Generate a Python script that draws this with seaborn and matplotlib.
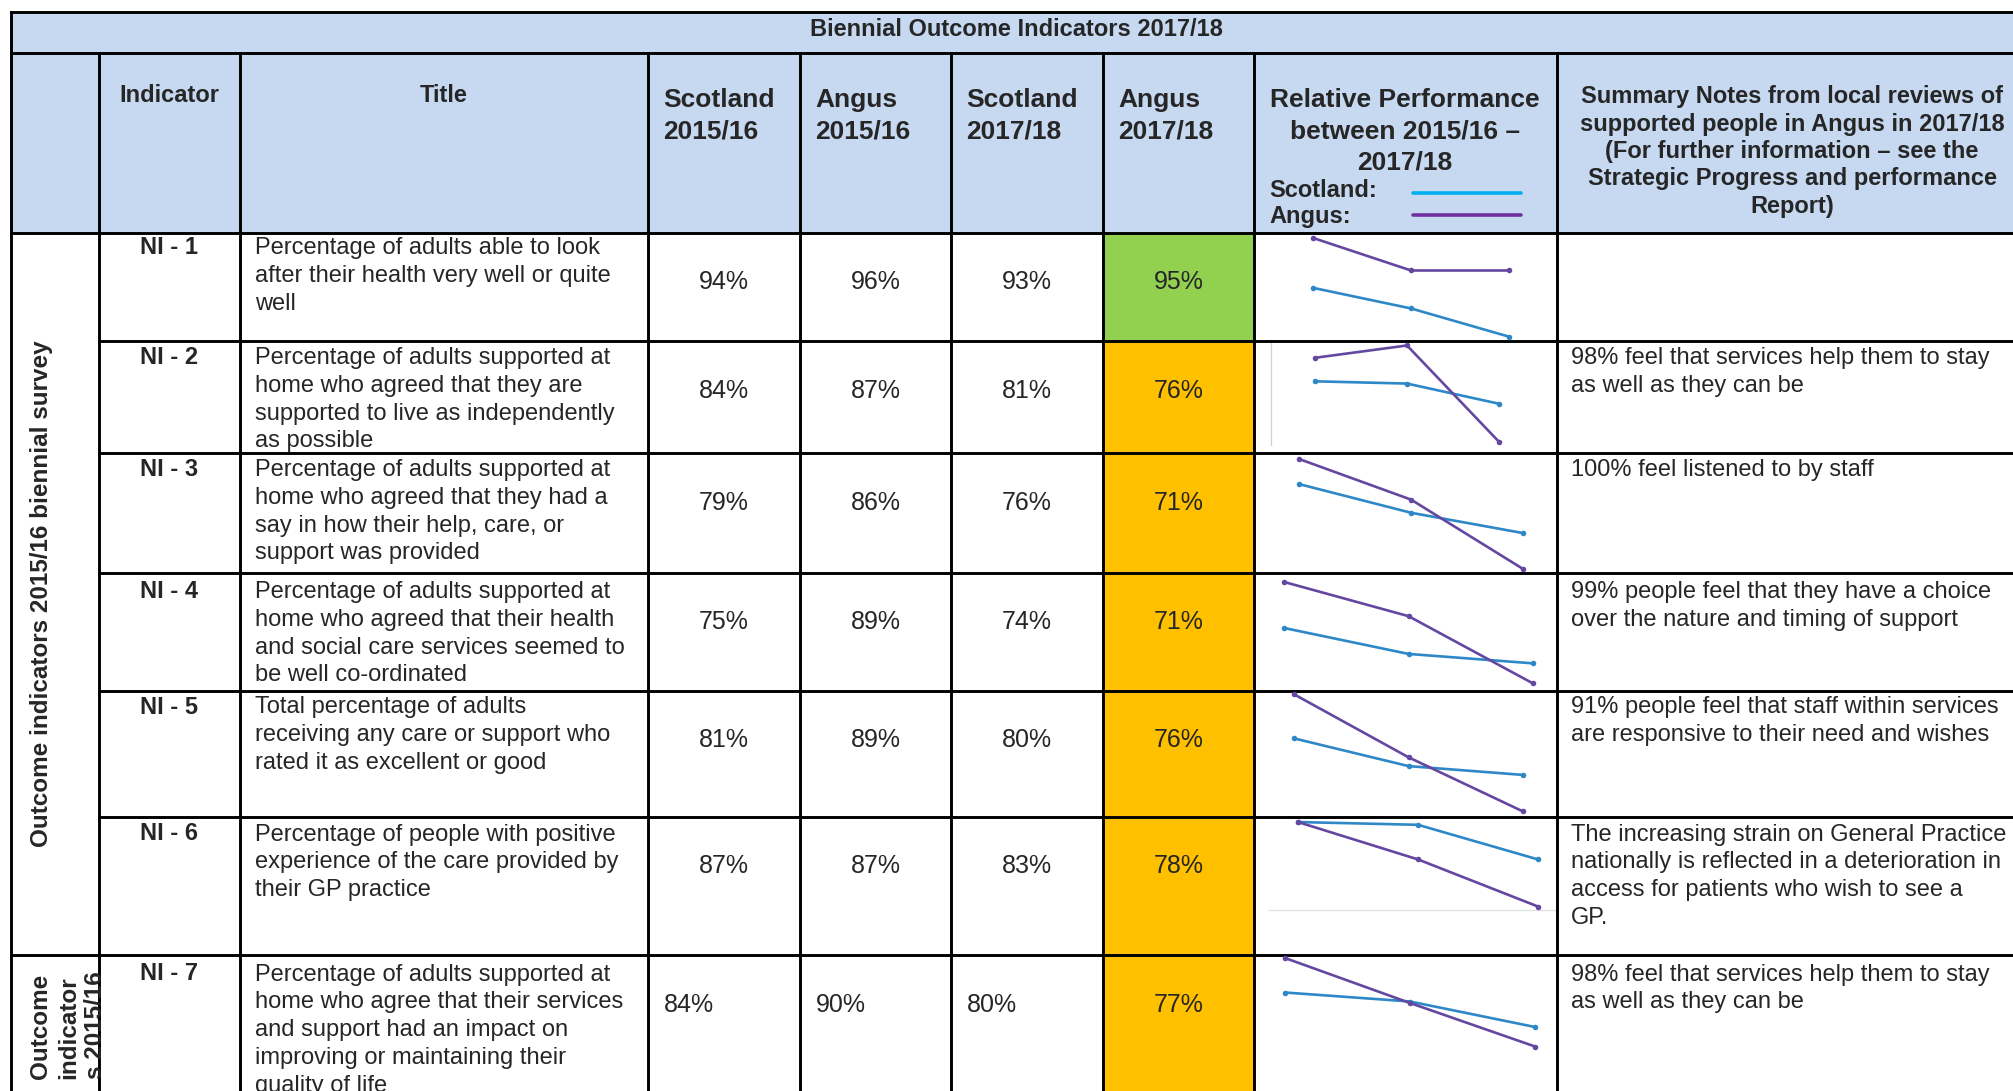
import matplotlib
matplotlib.use("Agg")
import matplotlib.pyplot as plt
import seaborn as sns
import pandas as pd
from matplotlib.patches import Rectangle

# ---------------- data ----------------
table_title = "Biennial Outcome Indicators 2017/18"
indicators = ["NI - 1", "NI - 2", "NI - 3", "NI - 4", "NI - 5", "NI - 6", "NI - 7"]
titles = [
    ["Percentage of adults able to look", "after their health very well or quite", "well"],
    ["Percentage of adults supported at", "home who agreed that they are",
     "supported to live as independently", "as possible"],
    ["Percentage of adults supported at", "home who agreed that they had a",
     "say in how their help, care, or", "support was provided"],
    ["Percentage of adults supported at", "home who agreed that their health",
     "and social care services seemed to", "be well co-ordinated"],
    ["Total percentage of adults", "receiving any care or support who", "rated it as excellent or good"],
    ["Percentage of people with positive", "experience of the care provided by", "their GP practice"],
    ["Percentage of adults supported at", "home who agree that their services",
     "and support had an impact on", "improving or maintaining their", "quality of life"],
]
scotland_1516 = [94, 84, 79, 75, 81, 87, 84]
angus_1516 = [96, 87, 86, 89, 89, 87, 90]
scotland_1718 = [93, 81, 76, 74, 80, 83, 80]
angus_1718 = [95, 76, 71, 71, 76, 78, 77]
rag_status = ["green", "amber", "amber", "amber", "amber", "amber", "amber"]
notes = [
    [],
    ["98% feel that services help them to stay", "as well as they can be"],
    ["100% feel listened to by staff"],
    ["99% people feel that they have a choice", "over the nature and timing of support"],
    ["91% people feel that staff within services", "are responsive to their need and wishes"],
    ["The increasing strain on General Practice", "nationally is reflected in a deterioration in",
     "access for patients who wish to see a", "GP."],
    ["98% feel that services help them to stay", "as well as they can be"],
]
# sparkline levels (read as % of each sparkline cell height), three periods each
spark_periods = [0, 1, 2]
spark_scotland = [[49, 30, 4], [64, 62, 44], [74, 50, 33], [53, 31, 23],
                  [62, 40, 33], [96, 94, 69], [75, 69, 52]]
spark_angus = [[95, 65, 65], [85, 96, 10], [95, 61, 3], [92, 63, 6],
               [97, 47, 4], [96, 69, 35], [98, 68, 39]]

group1_label = "Outcome indicators 2015/16 biennial survey"
group2_lines = ["Outcome", "indicator", "s 2015/16"]
header_cols = ["Scotland\n2015/16", "Angus\n2015/16", "Scotland\n2017/18", "Angus\n2017/18"]
perf_header = ["Relative Performance", "between 2015/16 \u2013", "2017/18"]
notes_header = ["Summary Notes from local reviews of", "supported people in Angus in 2017/18",
                "(For further information \u2013 see the", "Strategic Progress and performance",
                "Report)"]

# ---------------- style / layout ----------------
sns.set_theme(style="white")
plt.rcParams["font.family"] = ["Liberation Sans", "DejaVu Sans"]

HEAD_BLUE = "#C6D9F1"
FILL = {"green": "#92D050", "amber": "#FFC000"}
SCOT_LEG, ANG_LEG = "#00B0F0", "#7030A0"
SCOT_LINE, ANG_LINE = "#2E88C8", "#6447A0"

W, H = 2013, 1091
fig = plt.figure(figsize=(W / 100, H / 100), dpi=100)
fig.patch.set_facecolor("white")
ax = fig.add_axes([0, 0, 1, 1])
ax.set_xlim(0, W)
ax.set_ylim(H, 0)
ax.axis("off")

L, T, TITLE_B, HEAD_B = 10.5, 11.5, 52.5, 232.5
RIGHT = W + 10
COLS = [10.5, 99, 240, 648, 800, 951, 1103, 1254, 1557]
ROWS = [232.5, 341, 453, 572.5, 690.5, 816.5, 955, 1105]
TEXT_OFFSET = [21.5, 23, 23, 25.5, 23, 24, 25.5]   # first-line baseline below row top
LW = 2.1
PITCH = 27.8
FS_BODY = 17
FS_VAL = 18
FS_HEAD = 19

# backgrounds
ax.add_patch(Rectangle((L, T), RIGHT - L, HEAD_B - T, facecolor=HEAD_BLUE, edgecolor="none", zorder=0))
for i, st in enumerate(rag_status):
    ax.add_patch(Rectangle((COLS[6], ROWS[i]), COLS[7] - COLS[6], ROWS[i + 1] - ROWS[i],
                           facecolor=FILL[st], edgecolor="none", zorder=0))

# faint chart-frame remnants inside sparkline cells
ax.plot([1270.7, 1270.7], [343, 445], color="#D0D0D0", lw=0.9, zorder=1)
ax.plot([1268, 1557], [910, 910], color="#E0E0E0", lw=0.9, zorder=1)

# grid lines
def hline(y, x0, x1=RIGHT):
    ax.plot([x0, x1], [y, y], color="black", lw=LW, solid_capstyle="projecting", zorder=3)

def vline(x, y0, y1=H + 10):
    ax.plot([x, x], [y0, y1], color="black", lw=LW, solid_capstyle="projecting", zorder=3)

hline(T, L)
hline(TITLE_B, L)
hline(HEAD_B, L)
for k in range(1, 6):
    hline(ROWS[k], COLS[1])
hline(ROWS[6], L)
vline(L, T)
for x in COLS[1:]:
    vline(x, TITLE_B)

# title row
ax.text((L + W) / 2 + 5, 35.5, table_title, ha="center", va="baseline",
        fontsize=FS_BODY, fontweight="bold")

# header row
ax.text((COLS[1] + COLS[2]) / 2, 102, "Indicator", ha="center", va="baseline",
        fontsize=FS_BODY, fontweight="bold")
ax.text((COLS[2] + COLS[3]) / 2, 102, "Title", ha="center", va="baseline",
        fontsize=FS_BODY, fontweight="bold")
for j, lab in enumerate(header_cols):
    for k, line in enumerate(lab.split("\n")):
        ax.text(COLS[3 + j] + 15.5, 107 + k * 31.5, line, ha="left", va="baseline",
                fontsize=FS_HEAD, fontweight="bold")
for k, line in enumerate(perf_header):
    ax.text((COLS[7] + COLS[8]) / 2 - 1, 107 + k * 31.5, line, ha="center", va="baseline",
            fontsize=FS_HEAD, fontweight="bold")
ax.text(1269, 197, "Scotland:", ha="left", va="baseline", fontsize=FS_BODY, fontweight="bold")
ax.text(1269, 223, "Angus:", ha="left", va="baseline", fontsize=FS_BODY, fontweight="bold")
ax.plot([1413, 1521], [192.5, 192.5], color=SCOT_LEG, lw=2.6, zorder=2)
ax.plot([1413, 1521], [215, 215], color=ANG_LEG, lw=2.6, zorder=2)
for k, line in enumerate(notes_header):
    ax.text(1792, 103.5 + k * 27.3, line, ha="center", va="baseline",
            fontsize=FS_BODY, fontweight="bold")

# body rows
for i in range(len(indicators)):
    top = ROWS[i]
    base = top + TEXT_OFFSET[i]
    ax.text((COLS[1] + COLS[2]) / 2, base, indicators[i], ha="center", va="baseline",
            fontsize=FS_BODY, fontweight="bold")
    for k, line in enumerate(titles[i]):
        ax.text(COLS[2] + 15, base + k * PITCH, line, ha="left", va="baseline", fontsize=FS_BODY)
    for k, line in enumerate(notes[i]):
        ax.text(COLS[8] + 14, base + k * PITCH, line, ha="left", va="baseline", fontsize=FS_BODY)
    vals = [scotland_1516[i], angus_1516[i], scotland_1718[i], angus_1718[i]]
    vy = top + 56.5
    for j, v in enumerate(vals):
        if i == 6 and j < 3:
            ax.text(COLS[3 + j] + 15.5, vy, f"{v}%", ha="left", va="baseline", fontsize=FS_VAL)
        else:
            ax.text((COLS[3 + j] + COLS[4 + j]) / 2, vy, f"{v}%", ha="center", va="baseline",
                    fontsize=FS_VAL)

# rotated group labels
ax.text(42, (ROWS[0] + ROWS[6]) / 2, group1_label, rotation=90, ha="center", va="center",
        fontsize=17.5, fontweight="bold")
clip = Rectangle((L, ROWS[6]), COLS[1] - L, ROWS[7] - ROWS[6], transform=ax.transData)
for k, line in enumerate(group2_lines):
    t = ax.text(41 + k * 27.5, 1079, line, rotation=90, rotation_mode="anchor", ha="left",
                va="center", fontsize=17.5, fontweight="bold")
    t.set_clip_path(clip)

# sparklines (horizontal extents per row)
spark_x = [(1313, 1509), (1315, 1499), (1299, 1523), (1284, 1533),
           (1294, 1523), (1298, 1538), (1285, 1535)]
for i in range(len(indicators)):
    x0, x1 = spark_x[i]
    top, bot = ROWS[i], ROWS[i + 1]
    sax = fig.add_axes([x0 / W, 1 - bot / H, (x1 - x0) / W, (bot - top) / H])
    df = pd.DataFrame({
        "period": spark_periods * 2,
        "level": spark_scotland[i] + spark_angus[i],
        "series": ["Scotland"] * 3 + ["Angus"] * 3,
    })
    sns.lineplot(data=df, x="period", y="level", hue="series",
                 hue_order=["Scotland", "Angus"],
                 palette={"Scotland": SCOT_LINE, "Angus": ANG_LINE},
                 marker="o", markersize=4, markeredgewidth=0, linewidth=1.9,
                 legend=False, ax=sax)
    for ln in sax.lines:
        ln.set_clip_on(False)
    sax.set_xlim(0, 2)
    sax.set_ylim(0, 100)
    sax.axis("off")
    sax.patch.set_alpha(0)

fig.savefig("out.png", dpi=100)
